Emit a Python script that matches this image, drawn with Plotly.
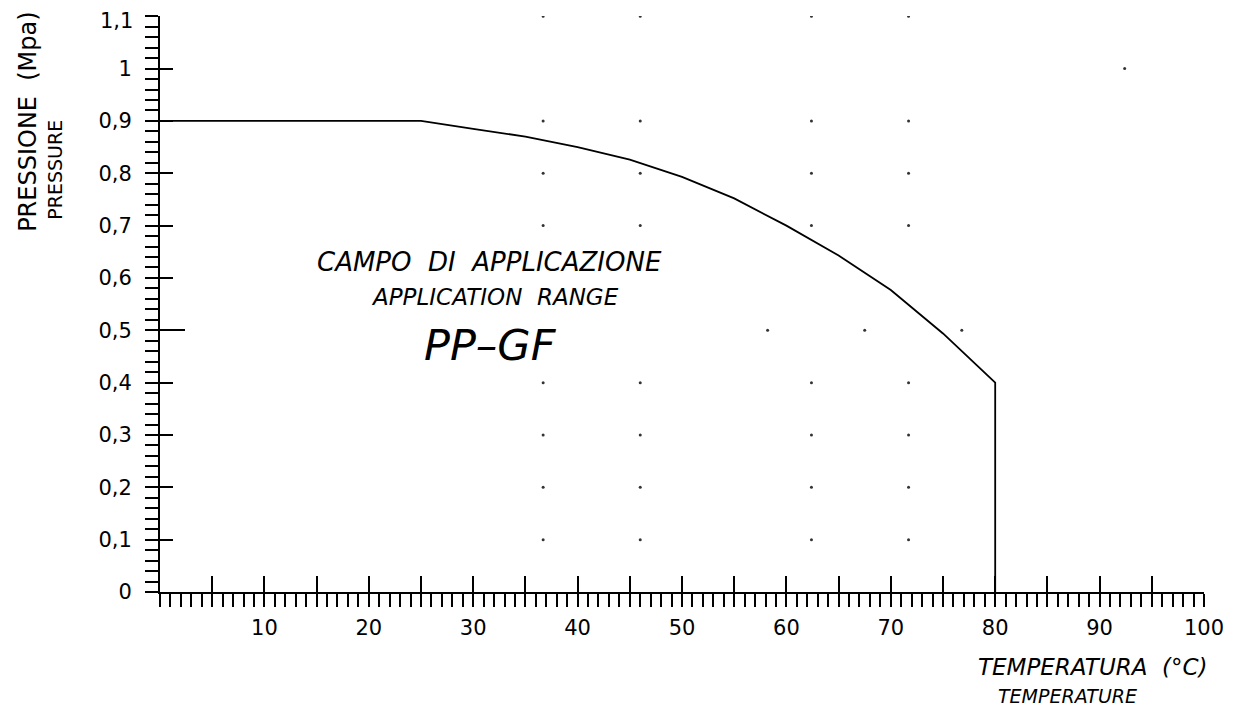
import plotly.graph_objects as go

# ---- data ----
temperature = [0, 20, 25, 30, 35, 40, 45, 50, 55, 60, 65, 70, 75, 80, 80]
pressure = [0.9, 0.9, 0.9, 0.885, 0.870, 0.850, 0.826, 0.793, 0.752, 0.700, 0.643, 0.577, 0.494, 0.40, 0.0]

dot_cols = [36.7, 46.0, 62.4, 71.7]
dot_rows = [1.1, 0.9, 0.8, 0.7, 0.4, 0.3, 0.2, 0.1]
extra_dot_temp = [58.2, 67.5, 76.8, 92.4]
extra_dot_press = [0.5, 0.5, 0.5, 1.0]

x_tickvals = [10, 20, 30, 40, 50, 60, 70, 80, 90, 100]
x_ticktext = ["10", "20", "30", "40", "50", "60", "70", "80", "90", "100"]
x_major5 = [5, 10, 15, 20, 25, 30, 35, 40, 45, 50, 55, 60, 65, 70, 75, 80, 85, 90, 95, 100]
y_tickvals = [0, 0.1, 0.2, 0.3, 0.4, 0.5, 0.6, 0.7, 0.8, 0.9, 1.0, 1.1]
y_ticktext = ["0", "0,1", "0,2", "0,3", "0,4", "0,5", "0,6", "0,7", "0,8", "0,9", "1", "1,1"]

dot_x = [c for r in dot_rows for c in dot_cols] + extra_dot_temp
dot_y = [r for r in dot_rows for c in dot_cols] + extra_dot_press

FONT = "DejaVu Sans"
Y_MAX = 1.1005

fig = go.Figure()
fig.add_trace(go.Scatter(x=temperature, y=pressure, mode="lines",
                         line=dict(color="black", width=1.8), hoverinfo="skip",
                         showlegend=False))
fig.add_trace(go.Scatter(x=dot_x, y=dot_y, mode="markers", xaxis="x2", yaxis="y2",
                         marker=dict(color="#333333", size=3), hoverinfo="skip",
                         showlegend=False))
fig.add_trace(go.Scatter(x=[], y=[], xaxis="x", yaxis="y3", showlegend=False))

common_tick = dict(tickcolor="black", tickwidth=1.8, showgrid=False, zeroline=False)

# top label drawn as an annotation (slightly lowered, as in the reference)
y_ticktext_axis = y_ticktext[:-1] + [""]

fig.update_layout(
    width=1235, height=705,
    margin=dict(l=152, r=39, t=8, b=121, autoexpand=False),
    paper_bgcolor="white", plot_bgcolor="white",
    font=dict(family=FONT, color="black", size=20),
    xaxis=dict(range=[0, 100], showline=True, linecolor="black", linewidth=2,
               ticks="outside", ticklen=13, tickvals=x_tickvals, ticktext=x_ticktext,
               tickfont=dict(size=21, family=FONT), ticklabelstandoff=3,
               ticklabeloverflow="allow",
               minor=dict(ticks="outside", dtick=1, tick0=0, ticklen=13,
                          tickcolor="black", tickwidth=1.8),
               **common_tick),
    xaxis2=dict(range=[0, 100], overlaying="x", anchor="y", side="bottom",
                showline=False, ticks="inside", ticklen=16, tickvals=x_major5,
                showticklabels=False, **common_tick),
    yaxis=dict(range=[0, Y_MAX], showline=True, linecolor="black", linewidth=2,
               ticks="outside", ticklen=13, tickvals=y_tickvals, ticktext=y_ticktext_axis,
               tickfont=dict(size=21, family=FONT), ticklabelstandoff=9,
               ticklabeloverflow="allow",
               minor=dict(ticks="outside", dtick=0.02, tick0=0, ticklen=13,
                          tickcolor="black", tickwidth=1.8),
               **common_tick),
    yaxis2=dict(range=[0, Y_MAX], overlaying="y", anchor="x", side="left",
                showline=False, ticks="inside", ticklen=13, tickvals=y_tickvals,
                showticklabels=False, **common_tick),
    yaxis3=dict(range=[0, Y_MAX], overlaying="y", anchor="x", side="left",
                showline=False, ticks="inside", ticklen=25, tickvals=[0.5],
                showticklabels=False, **common_tick),
)

annotations = [
    dict(text=y_ticktext[-1], x=-0.0235, y=y_tickvals[-1], xref="paper", yref="y",
         xanchor="right", yshift=-5, font=dict(size=21)),
    dict(text="CAMPO  DI  APPLICAZIONE", x=31.6, y=0.630, xref="x", yref="y",
         font=dict(size=26, style="italic")),
    dict(text="APPLICATION  RANGE", x=32.1, y=0.563, xref="x", yref="y",
         font=dict(size=23, style="italic")),
    dict(text="PP\u2013GF", x=31.7, y=0.472, xref="x", yref="y",
         font=dict(size=43, style="italic")),
    dict(text="TEMPERATURA  (°C)", x=0.894, y=-0.131, xref="paper", yref="paper",
         font=dict(size=23, style="italic")),
    dict(text="TEMPERATURE", x=0.869, y=-0.180, xref="paper", yref="paper",
         font=dict(size=19, style="italic")),
    dict(text="PRESSIONE  (Mpa)", x=-0.126, y=0.817, xref="paper", yref="paper",
         textangle=-90, font=dict(size=24)),
    dict(text="PRESSURE", x=-0.1006, y=0.733, xref="paper", yref="paper",
         textangle=-90, font=dict(size=19)),
]
for a in annotations:
    a.setdefault("xanchor", "center")
    a.update(showarrow=False, yanchor="middle")
    a["font"].update(family=FONT, color="black")
fig.update_layout(annotations=annotations)

fig.write_html("out.html")
